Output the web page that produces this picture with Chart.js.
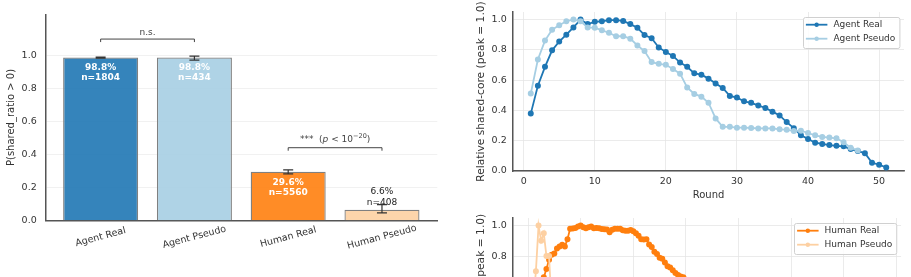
<!DOCTYPE html>
<html><head><meta charset="utf-8">
<script src="https://cdn.jsdelivr.net/npm/chart.js@4"></script>
<style>
html,body{margin:0;padding:0;background:#fff;overflow:hidden;width:911px;height:277px;position:relative}
canvas{position:absolute}
</style></head><body>
<canvas id="c1" width="460" height="277" style="left:0;top:0"></canvas>
<canvas id="c2" width="451" height="205" style="left:460px;top:0"></canvas>
<canvas id="c3" width="451" height="218" style="left:460px;top:206px"></canvas>
<script>
// ---------- Left panel: share rate bars ----------
const groups = ['Agent Real', 'Agent Pseudo', 'Human Real', 'Human Pseudo'];
const shareRate = [0.988, 0.988, 0.296, 0.066];
const errLow = [0.985, 0.973, 0.284, 0.047];
const errHigh = [0.991, 0.997, 0.308, 0.097];
const nObs = [1804, 434, 5560, 408];
const barColors = ['rgba(31,119,180,0.9)', 'rgba(166,206,227,0.9)', 'rgba(255,127,14,0.9)', 'rgba(253,208,162,0.9)'];
const barTicks = [0, 0.2, 0.4, 0.6, 0.8, 1.0];

// ---------- Right panels: relative shared-core per round ----------
const agentRounds = [1,2,3,4,5,6,7,8,9,10,11,12,13,14,15,16,17,18,19,20,21,22,23,24,25,26,27,28,29,30,31,32,33,34,35,36,37,38,39,40,41,42,43,44,45,46,47,48,49,50,51];
const agentReal = [0.379,0.563,0.688,0.797,0.855,0.900,0.948,1.000,0.970,0.985,0.989,0.996,0.996,0.991,0.970,0.946,0.898,0.877,0.816,0.786,0.760,0.716,0.688,0.645,0.636,0.610,0.578,0.548,0.496,0.485,0.460,0.450,0.433,0.416,0.392,0.367,0.323,0.283,0.236,0.212,0.187,0.179,0.171,0.166,0.163,0.145,0.132,0.118,0.054,0.042,0.023];
const agentPseudoRounds = [1,2,3,4,5,6,7,8,9,10,11,12,13,14,15,16,17,18,19,20,21,22,23,24,25,26,27,28,29,30,31,32,33,34,35,36,37,38,39,40,41,42,43,44,45,46,47];
const agentPseudo = [0.511,0.736,0.861,0.933,0.963,0.989,1.000,0.989,0.948,0.946,0.929,0.913,0.890,0.890,0.874,0.829,0.792,0.719,0.708,0.701,0.673,0.643,0.552,0.509,0.491,0.451,0.347,0.292,0.292,0.286,0.286,0.284,0.281,0.281,0.281,0.275,0.273,0.264,0.266,0.251,0.236,0.225,0.221,0.216,0.190,0.153,0.136];

const humanRounds = [1,2,3,4,5,6,7,8,9,10,11,12,13,14,15,16,17,18,19,20,21,22,23,24,25,26,27,28,29,30,31,32,33,34,35,36,37,38,39,40,41,42,43,44,45,46,47,48,49,50,51,52,53,54,55,56,57,58,59,60,61,62,63,64,65,66,67,68,69,70,71,72,73,74,75,76,77,78,79,80,81,82,83,84,85,86,87,88,89,90,91,92,93,94,95,96,97,98,99,100,101,102,103,104,105,106,107,108,109,110,111,112,113,114,115,116,117,118,119,120,121,122,123,124,125,126,127,128,129,130,131,132,133,134,135];
const humanReal = [0.36,0.44,0.50,0.56,0.60,0.661,0.715,0.776,0.809,0.817,0.850,0.863,0.874,0.863,0.911,0.980,0.981,0.984,0.994,1.000,0.989,0.983,0.989,0.994,0.983,0.985,0.983,0.978,0.976,0.974,0.956,0.973,0.979,0.979,0.979,0.970,0.966,0.966,0.971,0.963,0.950,0.934,0.910,0.908,0.910,0.876,0.860,0.828,0.813,0.789,0.783,0.757,0.733,0.724,0.707,0.688,0.676,0.666,0.660,0.645,0.632,0.618,0.605,0.590,0.578,0.562,0.551,0.537,0.522,0.510,0.497,0.483,0.472,0.458,0.446,0.433,0.421,0.410,0.398,0.386,0.375,0.362,0.352,0.341,0.330,0.320,0.309,0.300,0.290,0.281,0.271,0.263,0.254,0.246,0.238,0.229,0.222,0.214,0.207,0.199,0.192,0.186,0.179,0.172,0.166,0.159,0.153,0.148,0.142,0.136,0.130,0.125,0.119,0.114,0.108,0.103,0.098,0.093,0.088,0.083,0.078,0.073,0.068,0.064,0.059,0.055,0.050,0.046,0.042,0.038,0.034,0.030,0.026,0.022,0.018];
const humanPseudoRounds = [1,2,3,4,5,6,7,8,9,10,11,12,13,14,15,16,17,18,19,20,21,22,23,24,25,26,27,28,29,30,31,32,33,34,35,36,37,38,39,40];
const humanPseudo = [0.42,0.50,0.70,1.00,0.90,0.95,0.80,0.80,0.45,0.40,0.37,0.35,0.33,0.31,0.30,0.28,0.27,0.26,0.24,0.23,0.22,0.21,0.20,0.19,0.18,0.17,0.16,0.15,0.14,0.13,0.12,0.12,0.11,0.10,0.09,0.09,0.08,0.07,0.06,0.05];

const relTicks = [0, 0.2, 0.4, 0.6, 0.8, 1.0];
const agentXTicks = [0, 10, 20, 30, 40, 50];
const humanXTicks = [0, 20, 40, 60, 80, 100, 120, 140];

Chart.defaults.font.family = '"DejaVu Sans", sans-serif';
Chart.defaults.color = '#333';
const FONT = '"DejaVu Sans", sans-serif';

const pairs = (xs, ys) => xs.map((x, i) => ({x: x, y: ys[i]}));

// ---------- bar chart decorations ----------
function drawRich(ctx, parts, cx, cy) {
  let total = 0;
  parts.forEach(p => { ctx.font = p.font; p.w = ctx.measureText(p.t).width; total += p.w; });
  let x = cx - total / 2;
  ctx.textAlign = 'left';
  parts.forEach(p => { ctx.font = p.font; ctx.fillText(p.t, x, cy + (p.dy || 0)); x += p.w; });
}
const barDecor = {
  id: 'barDecor',
  afterDatasetsDraw(chart) {
    const ctx = chart.ctx, xs = chart.scales.x, ys = chart.scales.y, a = chart.chartArea;
    ctx.save();
    // error bars
    ctx.strokeStyle = '#333'; ctx.lineWidth = 1.2;
    groups.forEach((g, i) => {
      const x = xs.getPixelForValue(i);
      const y1 = ys.getPixelForValue(errLow[i]), y2 = ys.getPixelForValue(errHigh[i]);
      ctx.beginPath();
      ctx.moveTo(x, y1); ctx.lineTo(x, y2);
      ctx.moveTo(x - 5, y1); ctx.lineTo(x + 5, y1);
      ctx.moveTo(x - 5, y2); ctx.lineTo(x + 5, y2);
      ctx.stroke();
    });
    // value labels
    ctx.textAlign = 'center'; ctx.textBaseline = 'middle';
    groups.forEach((g, i) => {
      const x = xs.getPixelForValue(i), top = ys.getPixelForValue(shareRate[i]);
      const l1 = (shareRate[i] * 100).toFixed(1) + '%', l2 = 'n=' + nObs[i];
      if (shareRate[i] > 0.15) {
        ctx.fillStyle = '#fff'; ctx.font = 'bold 9px ' + FONT;
        ctx.fillText(l1, x, top + 10.5); ctx.fillText(l2, x, top + 20.5);
      } else {
        ctx.fillStyle = '#222'; ctx.font = '9px ' + FONT;
        ctx.fillText(l1, x, top - 18); ctx.fillText(l2, x, top - 7.5);
      }
    });
    // category labels (rotated)
    ctx.fillStyle = '#333'; ctx.font = '9.5px ' + FONT;
    groups.forEach((g, i) => {
      const x = xs.getPixelForValue(i);
      ctx.save();
      ctx.translate(x, a.bottom + 16.5);
      ctx.rotate(-15 * Math.PI / 180);
      ctx.textAlign = 'center'; ctx.textBaseline = 'middle';
      ctx.fillText(g, 0, 0);
      ctx.restore();
    });
    // significance brackets
    ctx.strokeStyle = '#444'; ctx.lineWidth = 1; ctx.fillStyle = '#444';
    const brackets = [{a: 0, b: 1, h: 1.10}, {a: 2, b: 3, h: 0.442}];
    brackets.forEach((br, k) => {
      const x1 = xs.getPixelForValue(br.a), x2 = xs.getPixelForValue(br.b), y = ys.getPixelForValue(br.h);
      ctx.beginPath();
      ctx.moveTo(x1, y + 3); ctx.lineTo(x1, y); ctx.lineTo(x2, y); ctx.lineTo(x2, y + 3);
      ctx.stroke();
      ctx.textBaseline = 'middle';
      if (k === 0) {
        drawRich(ctx, [{t: 'n.s.', font: '9px ' + FONT}], (x1 + x2) / 2, y - 6.5);
      } else {
        drawRich(ctx, [
          {t: '***  (', font: '9px ' + FONT},
          {t: 'p', font: 'italic 9px ' + FONT},
          {t: ' < 10', font: '9px ' + FONT},
          {t: '\u221220', font: '6.5px ' + FONT, dy: -3.5},
          {t: ')', font: '9px ' + FONT}
        ], (x1 + x2) / 2, y - 8);
      }
    });
    ctx.restore();
  }
};

new Chart(document.getElementById('c1'), {
  type: 'bar',
  data: {
    datasets: [{
      data: pairs([0, 1, 2, 3], shareRate),
      backgroundColor: barColors,
      borderColor: '#808080',
      borderWidth: 1.3,
      barPercentage: 0.8,
      categoryPercentage: 1.0
    }]
  },
  options: {
    responsive: false, animation: false, devicePixelRatio: 1,
    layout: {padding: {left: 0, right: 22.7, top: 9.3, bottom: 0}},
    plugins: {legend: {display: false}, tooltip: {enabled: false}},
    scales: {
      x: {
        type: 'linear', min: -0.59, max: 3.59, offset: false,
        grid: {display: false, drawTicks: false, offset: false},
        border: {display: true, color: '#555', width: 1.5},
        ticks: {display: false},
        afterBuildTicks(s) { s.ticks = [0, 1, 2, 3].map(v => ({value: v})); },
        afterFit(s) { s.height = 56.3; }
      },
      y: {
        min: 0, max: 1.25,
        afterBuildTicks(s) { s.ticks = barTicks.map(v => ({value: v})); },
        ticks: {callback: v => Number(v).toFixed(1), padding: 8.6, font: {size: 9.5}, color: '#333'},
        grid: {color: '#ededed', lineWidth: 0.8, drawTicks: false},
        border: {display: true, color: '#555', width: 1.5},
        title: {display: true, text: 'P(shared_ratio > 0)', font: {size: 10}, color: '#333', padding: {top: 5.3, bottom: 0}},
        afterFit(s) { s.width = 45.3; }
      }
    }
  },
  plugins: [barDecor]
});

// ---------- inside legend for line charts ----------
const insideLegend = {
  id: 'insideLegend',
  afterDraw(chart) {
    const ctx = chart.ctx, a = chart.chartArea, ds = chart.data.datasets;
    ctx.save();
    ctx.font = '9px ' + FONT;
    const tw = Math.max(...ds.map(d => ctx.measureText(d.label).width));
    const padL = 3, lineW = 21.5, gap = 6, padR = 4, rowH = 14, padT = 8;
    const w = padL + lineW + gap + tw + padR, h = 31;
    const right = a.right - 4.7, top = a.top + 4.7, left = right - w;
    ctx.fillStyle = 'rgba(255,255,255,0.85)'; ctx.strokeStyle = '#d0d0d0'; ctx.lineWidth = 1;
    ctx.beginPath();
    ctx.roundRect(Math.round(left) + 0.5, Math.round(top) + 0.5, w, h, 2);
    ctx.fill(); ctx.stroke();
    ds.forEach((d, i) => {
      const y = top + padT + i * rowH;
      ctx.strokeStyle = d.borderColor; ctx.lineWidth = d.borderWidth;
      ctx.beginPath(); ctx.moveTo(left + padL, y); ctx.lineTo(left + padL + lineW, y); ctx.stroke();
      ctx.fillStyle = d.borderColor;
      ctx.beginPath(); ctx.arc(left + padL + lineW / 2, y, 2.2, 0, Math.PI * 2); ctx.fill();
      ctx.fillStyle = '#333'; ctx.textAlign = 'left'; ctx.textBaseline = 'middle';
      ctx.fillText(d.label, left + padL + lineW + gap, y);
    });
    ctx.restore();
  }
};

function lineOptions(xmin, xmax, xticks, ymin) {
  return {
    responsive: false, animation: false, devicePixelRatio: 1,
    layout: {padding: {left: 0, right: 7, top: 9.3, bottom: 0}},
    plugins: {legend: {display: false}, tooltip: {enabled: false}},
    elements: {line: {tension: 0}, point: {radius: 2.1, borderWidth: 0}},
    scales: {
      x: {
        type: 'linear', min: xmin, max: xmax,
        afterBuildTicks(s) { s.ticks = xticks.map(v => ({value: v})); },
        ticks: {callback: v => String(v), padding: 5.3, font: {size: 9.5}, color: '#333', maxRotation: 0},
        grid: {color: '#e6e6e6', lineWidth: 0.8, drawTicks: false},
        border: {display: true, color: '#555', width: 1.5},
        title: {display: true, text: 'Round', font: {size: 10}, color: '#333', padding: {top: 0, bottom: 4}},
        afterFit(s) { s.height = 34; }
      },
      y: {
        min: ymin, max: 1.05,
        afterBuildTicks(s) { s.ticks = relTicks.map(v => ({value: v})); },
        ticks: {callback: v => Number(v).toFixed(1), padding: 6.3, font: {size: 9.5}, color: '#333'},
        grid: {color: '#e6e6e6', lineWidth: 0.8, drawTicks: false},
        border: {display: true, color: '#555', width: 1.5},
        title: {display: true, text: 'Relative shared-core (peak = 1.0)', font: {size: 10.7}, color: '#333', padding: {top: 15, bottom: 0}},
        afterFit(s) { s.width = 53; }
      }
    }
  };
}

new Chart(document.getElementById('c2'), {
  type: 'line',
  data: {
    datasets: [
      {label: 'Agent Real', data: pairs(agentRounds, agentReal), borderColor: '#1f77b4', backgroundColor: '#1f77b4', borderWidth: 1.8, order: 1},
      {label: 'Agent Pseudo', data: pairs(agentPseudoRounds, agentPseudo), borderColor: '#a6cee3', backgroundColor: '#a6cee3', borderWidth: 1.8, order: 0}
    ]
  },
  options: lineOptions(-1.5, 53.5, agentXTicks, 0),
  plugins: [insideLegend]
});

new Chart(document.getElementById('c3'), {
  type: 'line',
  data: {
    datasets: [
      {label: 'Human Real', data: pairs(humanRounds, humanReal), borderColor: '#ff7f0e', backgroundColor: '#ff7f0e', borderWidth: 1.8, order: 1},
      {label: 'Human Pseudo', data: pairs(humanPseudoRounds, humanPseudo), borderColor: '#fdd0a2', backgroundColor: '#fdd0a2', borderWidth: 1.8, order: 0}
    ]
  },
  options: lineOptions(-5.7, 141.7, humanXTicks, -0.08),
  plugins: [insideLegend]
});
</script>
</body></html>
